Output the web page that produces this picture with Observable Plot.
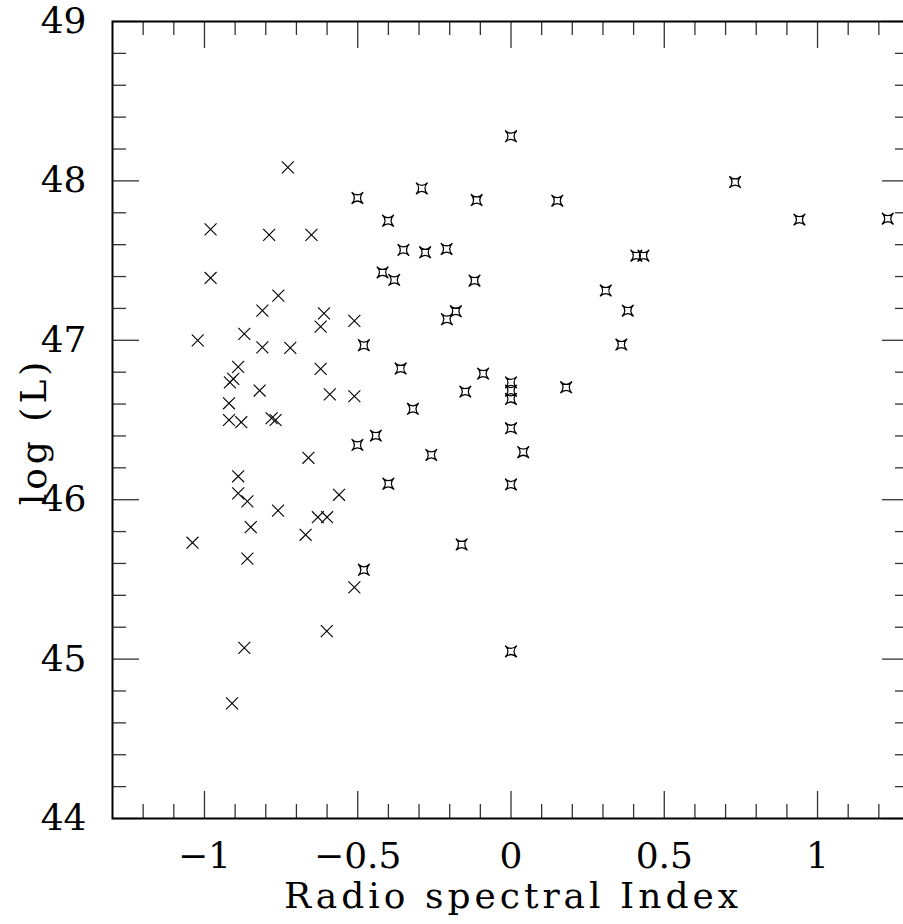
<!DOCTYPE html>
<html>
<head>
<meta charset="utf-8">
<script src="https://cdn.jsdelivr.net/npm/d3@7"></script>
<script src="https://cdn.jsdelivr.net/npm/@observablehq/plot@0.6"></script>
<style>
  html, body { margin: 0; padding: 0; background: #fff; overflow: hidden; }
  #chart svg { display: block; overflow: hidden; }
</style>
</head>
<body>
<div id="chart"></div>
<script>
// Steep-spectrum sources (crosses): radio spectral index, log(L)
const steepAlpha = [-0.728,-0.980,-0.789,-0.651,-0.980,-0.759,-0.811,-0.610,-0.621,-0.511,
  -1.022,-0.870,-0.811,-0.720,-0.890,-0.621,-0.917,-0.906,-0.820,-0.591,
  -0.511,-0.920,-0.920,-0.880,-0.781,-0.768,-0.661,-0.890,-0.890,-0.860,
  -0.561,-0.760,-0.630,-0.600,-0.849,-0.670,-1.039,-0.860,-0.511,-0.601,
  -0.870,-0.910];
const steepLogL = [48.085,47.696,47.661,47.661,47.391,47.280,47.186,47.169,47.086,47.122,
  47.000,47.040,46.956,46.952,46.833,46.821,46.736,46.758,46.685,46.661,
  46.649,46.605,46.500,46.486,46.511,46.500,46.263,46.147,46.040,45.989,
  46.031,45.932,45.890,45.890,45.828,45.780,45.730,45.630,45.450,45.176,
  45.070,44.722];
// Flat-spectrum sources (stars)
const flatAlpha = [0.000,-0.501,-0.291,-0.112,-0.401,-0.351,-0.280,-0.210,-0.419,-0.381,
  -0.119,0.151,0.731,0.941,1.229,0.409,0.432,0.309,0.381,0.360,
  -0.180,-0.209,-0.480,-0.360,-0.091,-0.149,-0.320,0.000,0.000,0.000,
  0.180,0.000,-0.441,-0.501,0.040,-0.260,-0.400,0.000,-0.161,-0.480,
  0.000];
const flatLogL = [48.280,47.893,47.953,47.880,47.750,47.567,47.552,47.573,47.426,47.379,
  47.374,47.876,47.993,47.757,47.763,47.531,47.531,47.312,47.186,46.973,
  47.182,47.132,46.969,46.823,46.791,46.678,46.570,46.736,46.684,46.632,
  46.705,46.448,46.402,46.344,46.298,46.281,46.100,46.095,45.719,45.560,
  45.048];

const xMajor = [-1, -0.5, 0, 0.5, 1];
const xTickLabels = ["\u22121", "\u22120.5", "0", "0.5", "1"];
const xMinor = [-1.2,-1.1,-0.9,-0.8,-0.7,-0.6,-0.4,-0.3,-0.2,-0.1,0.1,0.2,0.3,0.4,0.6,0.7,0.8,0.9,1.1,1.2];
const yMajor = [44, 45, 46, 47, 48, 49];
const yTickLabels = ["44", "45", "46", "47", "48", "49"];
const yMinor = [44.2,44.4,44.6,44.8,45.2,45.4,45.6,45.8,46.2,46.4,46.6,46.8,47.2,47.4,47.6,47.8,48.2,48.4,48.6,48.8];
const xTitle = "Radio spectral Index";
const yTitle = "log (L)";

const steep = steepAlpha.map((a, i) => ({alpha: a, logL: steepLogL[i]}));
const flat = flatAlpha.map((a, i) => ({alpha: a, logL: flatLogL[i]}));

// concave four-pointed star symbol
const starBox = {
  draw(ctx, size) {
    const s = Math.sqrt(size / Math.PI);
    const c = 0.05 * s;
    ctx.moveTo(-s, -s);
    ctx.quadraticCurveTo(0, -c, s, -s);
    ctx.quadraticCurveTo(c, 0, s, s);
    ctx.quadraticCurveTo(0, c, -s, s);
    ctx.quadraticCurveTo(-c, 0, -s, -s);
    ctx.closePath();
  }
};

const W = 903, H = 924;
const mL = 112, mR = -6, mT = 21, mB = 106;
const plotW = W - mL - mR, plotH = H - mT - mB;
const majorLen = 27, minorLen = 14;
const font = "DejaVu Serif";
const tickStroke = "#333";

const chart = Plot.plot({
  width: W, height: H,
  marginLeft: mL, marginRight: mR, marginTop: mT, marginBottom: mB,
  style: {fontFamily: font, background: "#fff", color: "#000"},
  x: {domain: [-1.3, 1.3], axis: null},
  y: {domain: [44, 49], axis: null},
  marks: [
    // ticks, bottom and top
    Plot.tickX(xMajor, {x: d => d, insetTop: plotH - majorLen, stroke: tickStroke, strokeWidth: 1.3}),
    Plot.tickX(xMinor, {x: d => d, insetTop: plotH - minorLen, stroke: tickStroke, strokeWidth: 1.3}),
    Plot.tickX(xMajor, {x: d => d, insetBottom: plotH - majorLen, stroke: tickStroke, strokeWidth: 1.3}),
    Plot.tickX(xMinor, {x: d => d, insetBottom: plotH - minorLen, stroke: tickStroke, strokeWidth: 1.3}),
    // ticks, left and right
    Plot.tickY(yMajor, {y: d => d, insetRight: plotW - majorLen, stroke: tickStroke, strokeWidth: 1.3}),
    Plot.tickY(yMinor, {y: d => d, insetRight: plotW - minorLen, stroke: tickStroke, strokeWidth: 1.3}),
    Plot.tickY(yMajor, {y: d => d, insetLeft: plotW - majorLen, stroke: tickStroke, strokeWidth: 1.3}),
    Plot.tickY(yMinor, {y: d => d, insetLeft: plotW - minorLen, stroke: tickStroke, strokeWidth: 1.3}),
    Plot.frame({stroke: "#000", strokeWidth: 2}),
    // data
    Plot.dot(steep, {x: "alpha", y: "logL", symbol: "times", r: 5.5, stroke: "#000", strokeWidth: 1.1}),
    Plot.dot(flat, {x: "alpha", y: "logL", symbol: starBox, r: 5.8, stroke: "#000", strokeWidth: 1.2, fill: "none"}),
    // tick labels
    Plot.text(xMajor, {x: d => d, text: (d, i) => xTickLabels[i], frameAnchor: "bottom", dy: 38,
      textAnchor: "middle", lineAnchor: "middle", fontSize: 36, fill: "#000"}),
    Plot.text(yMajor, {y: d => d, text: (d, i) => yTickLabels[i], frameAnchor: "left", dx: -26,
      textAnchor: "end", lineAnchor: "middle", fontSize: 36, fill: "#000"}),
    // axis titles
    Plot.text([xTitle], {text: d => d, frameAnchor: "bottom", dy: 78, dx: 2, textAnchor: "middle",
      lineAnchor: "middle", fontSize: 36, fill: "#000"}),
    Plot.text([yTitle], {text: d => d, frameAnchor: "left", rotate: -90, dx: -78, dy: 11.5, textAnchor: "middle",
      lineAnchor: "middle", fontSize: 36, fill: "#000"})
  ]
});
d3.select(chart).selectAll("text")
  .filter(function () { return this.textContent === xTitle || this.textContent === yTitle; })
  .style("letter-spacing", "4px");
document.getElementById("chart").appendChild(chart);
</script>
</body>
</html>
